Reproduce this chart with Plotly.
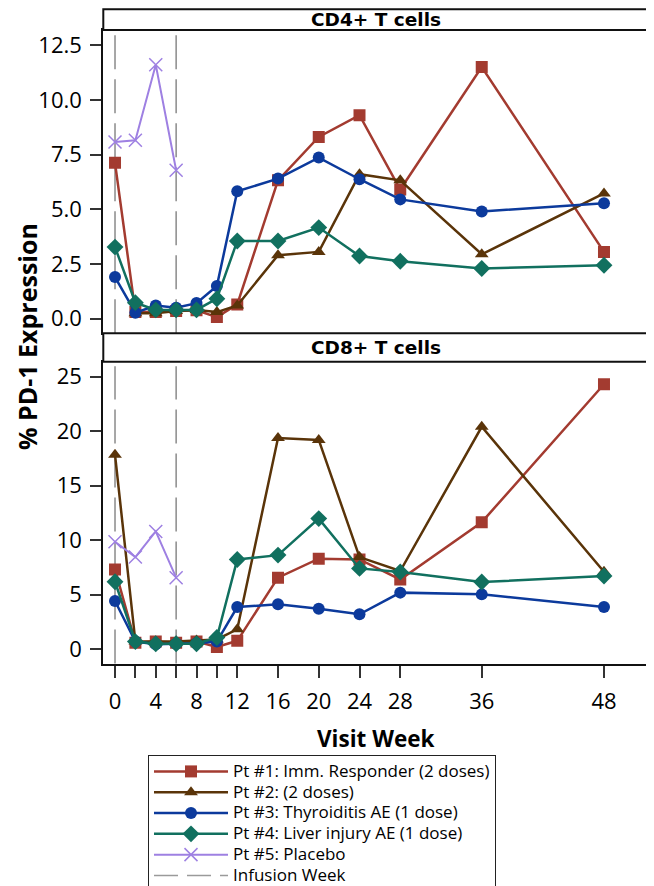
import plotly.graph_objects as go

# ---------------- data ----------------
weeks = [0, 2, 4, 6, 8, 10, 12, 16, 20, 24, 28, 36, 48]
tick_labels = ["0", "", "4", "", "8", "", "12", "16", "20", "24", "28", "36", "48"]
infusion_weeks = [0, 6]

names = [
    "Pt #1: Imm. Responder (2 doses)",
    "Pt #2: (2 doses)",
    "Pt #3: Thyroiditis AE (1 dose)",
    "Pt #4: Liver injury AE (1 dose)",
    "Pt #5: Placebo",
]
infusion_name = "Infusion Week"

cd4_pt1 = [7.12, 0.30, 0.30, 0.35, 0.38, 0.07, 0.65, 6.32, 8.30, 9.30, 5.90, 11.50, 3.05]
cd4_pt2 = [None, 0.25, 0.25, 0.35, 0.40, 0.30, 0.60, 2.90, 3.05, 6.60, 6.32, 2.94, 5.72]
cd4_pt3 = [1.90, 0.27, 0.60, 0.50, 0.71, 1.49, 5.82, 6.40, 7.36, 6.37, 5.45, 4.90, 5.27]
cd4_pt4 = [3.27, 0.73, 0.40, 0.40, 0.40, 0.91, 3.55, 3.55, 4.16, 2.86, 2.62, 2.29, 2.44]
cd4_pt5 = [8.07, 8.15, 11.60, 6.78, None, None, None, None, None, None, None, None, None]

cd8_pt1 = [7.32, 0.60, 0.70, 0.60, 0.70, 0.20, 0.77, 6.56, 8.30, 8.23, 6.40, 11.65, 24.30]
cd8_pt2 = [17.84, 0.70, 0.70, 0.70, 0.80, 0.90, 1.83, 19.37, 19.20, 8.45, 7.17, 20.40, 7.10]
cd8_pt3 = [4.42, 0.70, 0.46, 0.50, 0.55, 0.70, 3.87, 4.12, 3.72, 3.20, 5.19, 5.03, 3.87]
cd8_pt4 = [6.19, 0.70, 0.50, 0.50, 0.50, 1.07, 8.23, 8.63, 11.98, 7.41, 7.08, 6.16, 6.71]
cd8_pt5 = [9.85, 8.45, 10.80, 6.56, None, None, None, None, None, None, None, None, None]

cd4 = [cd4_pt1, cd4_pt2, cd4_pt3, cd4_pt4, cd4_pt5]
cd8 = [cd8_pt1, cd8_pt2, cd8_pt3, cd8_pt4, cd8_pt5]

# ---------------- styles ----------------
colors = ["#A33B30", "#5A3409", "#0C3A9C", "#11705F", "#9E80E2"]
symbols = ["square", "triangle-up", "circle", "diamond", "x-thin"]
msizes = [12, 12, 12, 13, 13]
FONT = "Open Sans"
HFONT = "DejaVu Sans"

W, H = 654, 886
OFF = 8  # page body margin in the browser
PX_L, PX_R = 103.3, 648.3


def px(p):
    return (p - OFF) / W


def py(p):
    return (H - (p - OFF)) / H


top_dom = [py(333.3), py(30)]
bot_dom = [py(663.5), py(361.7)]

fig = go.Figure()

for k, (data, ax) in enumerate([(cd4, ("x", "y")), (cd8, ("x2", "y2"))]):
    for i in range(5):
        fig.add_trace(go.Scatter(
            x=weeks, y=data[i], xaxis=ax[0], yaxis=ax[1],
            mode="lines+markers",
            name='<span style="font-size:17px">%s</span>' % names[i],
            legendgroup=names[i],
            showlegend=(k == 0), connectgaps=True,
            line=dict(color=colors[i], width=2.5 if i < 4 else 2),
            marker=dict(symbol=symbols[i], size=msizes[i], color=colors[i],
                        line=dict(color=colors[i], width=1.5 if i == 4 else 0)),
        ))
    if k == 0:
        fig.add_trace(go.Scatter(
            x=[None], y=[None], mode="lines",
            name='<span style="font-size:17px">%s</span>' % infusion_name,
            line=dict(color="#9A9A9A", width=1.5, dash="24px,9px"),
        ))

# infusion lines
for xref, yref in [("x", "y domain"), ("x2", "y2 domain")]:
    for w in infusion_weeks:
        fig.add_shape(type="line", xref=xref, yref=yref, x0=w, x1=w, y0=0, y1=0.985,
                      line=dict(color="#8A8A8A", width=1.5, dash="34px,10px"), layer="below")

# header strips
for (y0, y1, label) in [(py(30), py(9.2), "CD4+ T cells"), (py(361.7), py(333.3), "CD8+ T cells")]:
    fig.add_shape(type="rect", xref="paper", yref="paper", x0=px(PX_L), x1=px(PX_R), y0=y0, y1=y1,
                  line=dict(color="#111", width=2), fillcolor="white")
    fig.add_annotation(xref="paper", yref="paper", x=(px(PX_L) + px(PX_R)) / 2, y=(y0 + y1) / 2,
                       text="<b>%s</b>" % label,
                       showarrow=False, font=dict(family=HFONT, size=18.5, color="black"),
                       xanchor="center", yanchor="middle")

axis_common = dict(showline=True, linecolor="#111", linewidth=2, mirror=True,
                   showgrid=False, zeroline=False)
xdom = [px(PX_L), px(PX_R)]
xrange_ = [-1.15, 52.35]

fig.update_layout(
    width=W, height=H,
    margin=dict(l=0, r=0, t=0, b=0, autoexpand=False),
    plot_bgcolor="white", paper_bgcolor="white",
    font=dict(family=FONT, color="black"),
    xaxis=dict(domain=xdom, range=xrange_, anchor="y", showticklabels=False,
               ticks="", **axis_common),
    yaxis=dict(domain=top_dom, range=[-0.67, 13.19], anchor="x",
               tickvals=[0, 2.5, 5, 7.5, 10, 12.5], tickformat=".1f",
               ticks="outside", ticklen=11, tickwidth=1.5, tickcolor="#333",
               ticklabelstandoff=4,
               tickfont=dict(family=FONT, size=22), **axis_common),
    xaxis2=dict(domain=xdom, range=xrange_, anchor="y2",
                tickvals=weeks, ticktext=tick_labels,
                ticks="outside", ticklen=12, tickwidth=1.5, tickcolor="#333",
                ticklabelstandoff=5,
                tickfont=dict(family=FONT, size=22), **axis_common),
    yaxis2=dict(domain=bot_dom, range=[-1.31, 26.37], anchor="x2",
                tickvals=[0, 5, 10, 15, 20, 25],
                ticks="outside", ticklen=11, tickwidth=1.5, tickcolor="#333",
                ticklabelstandoff=4,
                tickfont=dict(family=FONT, size=22), **axis_common),
    legend=dict(x=px(148), y=py(755), xanchor="left", yanchor="top",
                bordercolor="#222", borderwidth=1, bgcolor="white",
                font=dict(family=FONT, size=13.7, color="black"),
                itemwidth=74, tracegroupgap=0),
    showlegend=True,
)

fig.add_annotation(xref="paper", yref="paper", x=px(27), y=py(337),
                   text="<b>% PD-1 Expression</b>", textangle=-90, showarrow=False,
                   borderpad=0,
                   font=dict(family=FONT, size=25, color="black"),
                   xanchor="center", yanchor="middle")
fig.add_annotation(xref="paper", yref="paper", x=(px(PX_L) + px(PX_R)) / 2, y=py(738),
                   text="<b>Visit Week</b>", showarrow=False,
                   font=dict(family=FONT, size=22.5, color="black"),
                   xanchor="center", yanchor="middle")

fig.write_html("out.html")
